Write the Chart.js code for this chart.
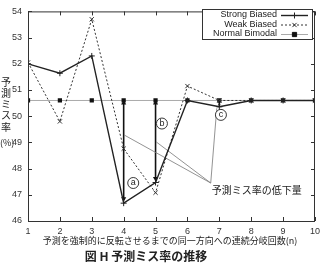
<!DOCTYPE html>
<html>
<head>
<meta charset="utf-8">
<script src="https://cdn.jsdelivr.net/npm/chart.js@4/dist/chart.umd.min.js"></script>
<style>
    html, body { margin: 0; padding: 0; background: #fff; }
    #wrap { width: 325px; height: 263px; position: relative; }
</style>
</head>
<body>
<div id="wrap"><canvas id="chart-miss"></canvas></div>
<script>
// Data
const xValues = [1, 2, 3, 4, 5, 6, 7, 8, 9, 10];
const strongBiased = [52.0, 51.64, 52.3, 46.68, 47.47, 50.6, 50.36, 50.6, 50.6, 50.6];
const weakBiased = [52.05, 49.8, 53.7, 48.76, 47.08, 51.15, 50.6, 50.6, 50.6, 50.6];
const normalBimodal = [50.6, 50.6, 50.6, 50.6, 50.6, 50.6, 50.6, 50.6, 50.6, 50.6];
const seriesLabels = ['Strong Biased', 'Weak Biased', 'Normal Bimodal'];

// Miss-rate reduction arrows (x, top, bottom)
const arrowX = [4, 5, 7];
const arrowTop = [50.5, 50.5, 50.55];
const arrowBottom = [46.85, 47.62, 50.42];

// Circled labels a, b, c
const markLabels = ['a', 'b', 'c'];
const markX = [4.3, 5.2, 7.05];
const markY = [47.45, 49.72, 50.05];

// Leader lines to the note "予測ミス率の低下量"
const noteFrom = { x: 6.73, y: 47.45 };
const noteToX = [4.02, 5.02, 6.92];
const noteToY = [49.28, 49.02, 50.3];
const noteText = '予測ミス率の低下量';

const xTitle = '予測を強制的に反転させるまでの同一方向への連続分岐回数(n)';
const yTitleChars = ['予', '測', 'ミ', 'ス', '率'];
const caption = '図 H 予測ミス率の推移';

const pts = arr => arr.map((v, i) => ({ x: xValues[i], y: v }));

const datasets = [
    {
        label: seriesLabels[0],
        data: pts(strongBiased),
        borderColor: '#222',
        borderWidth: 1.4,
        pointStyle: 'cross',
        pointRadius: 3,
        pointBorderColor: '#222',
        pointBorderWidth: 1,
        tension: 0
    },
    {
        label: seriesLabels[1],
        data: pts(weakBiased),
        borderColor: '#333',
        borderWidth: 1,
        borderDash: [2, 2],
        pointStyle: 'crossRot',
        pointRadius: 3,
        pointBorderColor: '#333',
        pointBorderWidth: 1,
        tension: 0
    },
    {
        label: seriesLabels[2],
        data: pts(normalBimodal),
        borderColor: '#aaa',
        borderWidth: 1,
        pointStyle: 'rect',
        pointRadius: 3,
        pointBackgroundColor: '#111',
        pointBorderColor: '#111',
        pointBorderWidth: 0,
        tension: 0
    }
];

// leader lines
noteToX.forEach((x, i) => {
    datasets.push({
        label: 'note' + i,
        data: [noteFrom, { x: x, y: noteToY[i] }],
        borderColor: '#777',
        borderWidth: 0.8,
        pointRadius: 0,
        tension: 0
    });
});

// arrows
arrowX.forEach((x, i) => {
    datasets.push({
        label: 'arrow' + i,
        data: [{ x: x, y: arrowTop[i] }, { x: x, y: arrowBottom[i] }],
        borderColor: '#111',
        borderWidth: 1.6,
        pointStyle: 'triangle',
        pointRadius: i === 2 ? 1.5 : 3,
        rotation: [0, 180],
        pointBackgroundColor: '#111',
        pointBorderColor: '#111',
        pointBorderWidth: 0,
        tension: 0
    });
});

const FONT = '"Liberation Sans", Arial, sans-serif';
const JFONT = '"Noto Sans CJK JP", sans-serif';

const decorPlugin = {
    id: 'decor',
    afterDatasetsDraw(chart) {
        const { ctx, chartArea: a, scales } = chart;
        const sx = scales.x, sy = scales.y;
        ctx.save();

        // frame
        ctx.strokeStyle = '#333';
        ctx.lineWidth = 1;
        ctx.strokeRect(a.left + 0.5, a.top + 0.5, a.right - a.left - 1, a.bottom - a.top);

        // inward ticks on all four sides
        ctx.beginPath();
        sx.ticks.forEach(t => {
            const px = Math.round(sx.getPixelForValue(t.value)) + 0.5;
            ctx.moveTo(px, a.bottom); ctx.lineTo(px, a.bottom - 4);
            ctx.moveTo(px, a.top); ctx.lineTo(px, a.top + 4);
        });
        sy.ticks.forEach(t => {
            const py = Math.round(sy.getPixelForValue(t.value)) + 0.5;
            ctx.moveTo(a.left, py); ctx.lineTo(a.left + 4, py);
            ctx.moveTo(a.right, py); ctx.lineTo(a.right - 4, py);
        });
        ctx.stroke();

        // circled labels
        ctx.textAlign = 'center';
        ctx.textBaseline = 'middle';
        markLabels.forEach((m, i) => {
            const cx = sx.getPixelForValue(markX[i]);
            const cy = sy.getPixelForValue(markY[i]);
            ctx.fillStyle = '#fff';
            ctx.strokeStyle = '#222';
            ctx.lineWidth = 0.9;
            ctx.beginPath();
            ctx.arc(cx, cy, 5.5, 0, Math.PI * 2);
            ctx.fill();
            ctx.stroke();
            ctx.fillStyle = '#222';
            ctx.font = '9px ' + FONT;
            ctx.fillText(m, cx, cy - 0.5);
        });

        // note text
        ctx.fillStyle = '#222';
        ctx.font = '10px ' + JFONT;
        ctx.textAlign = 'left';
        ctx.fillText(noteText, sx.getPixelForValue(noteFrom.x) + 1, sy.getPixelForValue(noteFrom.y) + 7);

        // legend box
        const lx0 = 202, ly0 = 9, lx1 = 312, ly1 = 39;
        ctx.fillStyle = '#fff';
        ctx.fillRect(lx0, ly0, lx1 - lx0, ly1 - ly0);
        ctx.strokeStyle = '#333';
        ctx.lineWidth = 1;
        ctx.strokeRect(lx0 + 0.5, ly0 + 0.5, lx1 - lx0, ly1 - ly0);
        ctx.font = '9px ' + FONT;
        ctx.textAlign = 'right';
        seriesLabels.forEach((lab, i) => {
            const ds = chart.data.datasets[i];
            const y = ly0 + 6 + i * 9.5;
            ctx.fillStyle = '#222';
            ctx.fillText(lab, 277, y);
            ctx.strokeStyle = ds.borderColor;
            ctx.lineWidth = ds.borderWidth;
            ctx.setLineDash(ds.borderDash || []);
            ctx.beginPath();
            ctx.moveTo(281, y + 0.5); ctx.lineTo(308, y + 0.5);
            ctx.stroke();
            ctx.setLineDash([]);
            ctx.lineWidth = 1;
            ctx.strokeStyle = ds.pointBorderColor;
            ctx.fillStyle = ds.pointBackgroundColor || ds.pointBorderColor;
            Chart.helpers.drawPoint(ctx, { pointStyle: ds.pointStyle, radius: ds.pointRadius, rotation: 0, borderWidth: 1 }, 294.5, y + 0.5);
        });

        // y title, stacked characters
        ctx.fillStyle = '#222';
        ctx.font = '10px ' + JFONT;
        ctx.textAlign = 'center';
        yTitleChars.forEach((c, i) => ctx.fillText(c, 6, 82 + i * 11.2));
        ctx.font = '9px ' + JFONT;
        ctx.textAlign = 'left';
        ctx.fillText('(%)', 0, sy.getPixelForValue(49));

        // x title
        ctx.font = '9px ' + JFONT;
        ctx.textAlign = 'center';
        ctx.fillText(xTitle, 170, 241);

        // caption
        ctx.font = 'bold 12px ' + JFONT;
        ctx.fillText(caption, 146, 256);

        ctx.restore();
    }
};

new Chart(document.getElementById('chart-miss').getContext('2d'), {
    type: 'line',
    data: { datasets: datasets },
    options: {
        responsive: true,
        maintainAspectRatio: false,
        animation: false,
        layout: { padding: { left: 0, right: 8, top: 7, bottom: 0 } },
        plugins: {
            legend: { display: false },
            tooltip: { enabled: false }
        },
        scales: {
            x: {
                type: 'linear',
                min: 1,
                max: 10,
                afterFit: s => { s.height = 42; },
                grid: { display: false, drawTicks: false },
                border: { display: false },
                ticks: {
                    stepSize: 1,
                    padding: 5,
                    color: '#333',
                    font: { family: FONT, size: 9 }
                }
            },
            y: {
                min: 46,
                max: 54,
                afterFit: s => { s.width = 28; },
                grid: { display: false, drawTicks: false },
                border: { display: false },
                ticks: {
                    stepSize: 1,
                    padding: 6,
                    color: '#333',
                    font: { family: FONT, size: 9 }
                }
            }
        }
    },
    plugins: [decorPlugin]
});
</script>
</body>
</html>
